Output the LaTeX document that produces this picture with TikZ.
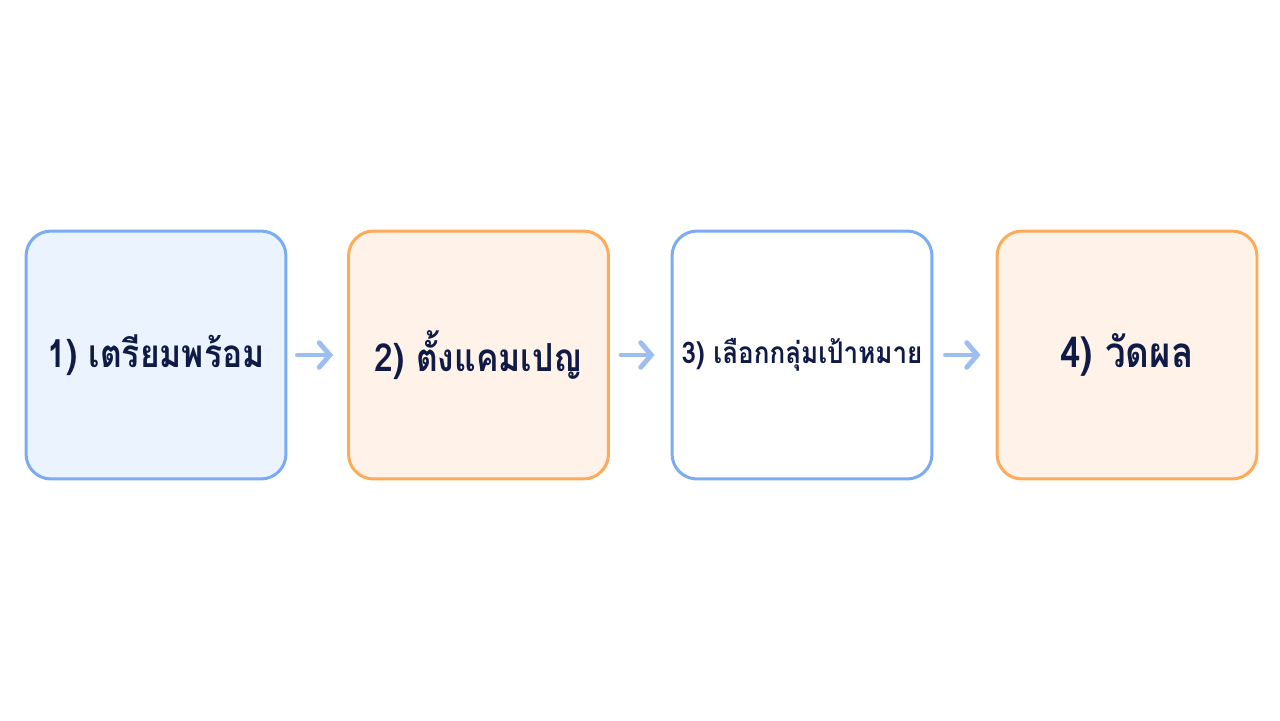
\documentclass[tikz,border=0pt]{standalone}
\usepackage{fontspec}
\usepackage{tikz}
\usetikzlibrary{arrows.meta}
\newfontfamily\thaifont[Script=Thai, FakeStretch=0.87]{Loma}

\definecolor{bordaazul}{HTML}{7BABF2}
\definecolor{fundoazul}{HTML}{EAF3FE}
\definecolor{bordalaranja}{HTML}{FFAA58}
\definecolor{fundolaranja}{HTML}{FFF2E8}
\definecolor{textoescuro}{HTML}{0F1B46}
\definecolor{setaazul}{HTML}{9DBEF1}

\begin{document}
\begin{tikzpicture}[x=0.02cm, y=-0.02cm,
    etapa/.style={rounded corners=0.5cm, line width=1.7pt,
      minimum width=5.2cm, minimum height=4.96cm,
      font=\thaifont\bfseries\fontsize{22}{26}\selectfont,
      text=textoescuro, inner sep=1pt},
    seta/.style={setaazul, line width=2.8pt, line cap=round,
      -{Straight Barb[length=6pt, width=14pt, line cap=round]}}]
        % fundo
        \fill[white] (0,0) rectangle (1280,720);

        % etapas
        \node[etapa, draw=bordaazul, fill=fundoazul] (prep) at (156,355) {1) เตรียมพร้อม};
        \node[etapa, draw=bordalaranja, fill=fundolaranja] (camp) at (478.5,355) {2) ตั้งแคมเปญ};
        \node[etapa, draw=bordaazul, fill=white,
          font=\thaifont\bfseries\fontsize{17}{20}\selectfont] (alvo) at (802,355) {3) เลือกกลุ่มเป้าหมาย};
        \node[etapa, draw=bordalaranja, fill=fundolaranja,
          font=\thaifont\bfseries\fontsize{24}{28}\selectfont] (medir) at (1127,355) {4) วัดผล};

        % setas
        \draw[seta, shorten <=0.2cm, shorten >=0.28cm] (prep.east) -- (camp.west);
        \draw[seta, shorten <=0.22cm, shorten >=0.32cm] (camp.east) -- (alvo.west);
        \draw[seta, shorten <=0.24cm, shorten >=0.3cm] (alvo.east) -- (medir.west);
\end{tikzpicture}
\end{document}
